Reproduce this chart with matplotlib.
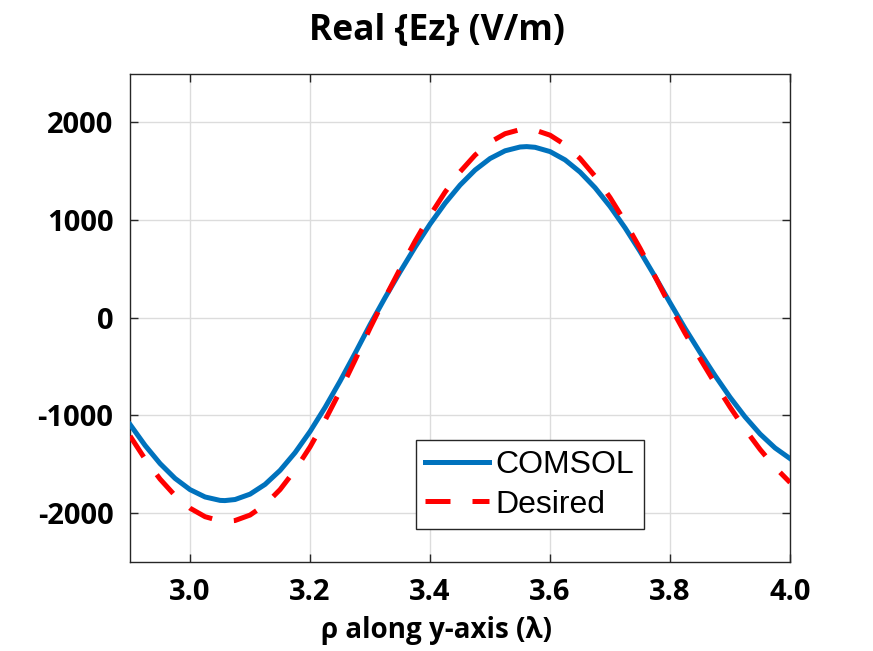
import matplotlib
matplotlib.use("Agg")
import matplotlib.pyplot as plt
import numpy as np

# sample positions along y-axis (wavelengths), extrema added where read
comsol_rho = [2.900, 2.925, 2.950, 2.975, 3.000, 3.025, 3.050, 3.058, 3.075, 3.100,
              3.125, 3.150, 3.175, 3.200, 3.225, 3.250, 3.275, 3.300, 3.325, 3.350,
              3.375, 3.400, 3.425, 3.450, 3.475, 3.500, 3.525, 3.550, 3.561, 3.575,
              3.600, 3.625, 3.650, 3.675, 3.700, 3.725, 3.750, 3.775, 3.800, 3.825,
              3.850, 3.875, 3.900, 3.925, 3.950, 3.975, 4.000]

# Real{Ez} (V/m)
comsol = [-1094, -1308, -1494, -1646, -1761, -1836, -1871, -1873, -1862, -1807,
          -1707, -1564, -1382, -1165, -919, -650, -365, -71, 205, 469,
          722, 959, 1172, 1358, 1512, 1630, 1709, 1748, 1752, 1745,
          1701, 1616, 1491, 1331, 1139, 920, 678, 420, 152, -110,
          -356, -593, -815, -1016, -1191, -1334, -1443]

desired_rho = [2.900, 2.925, 2.950, 2.975, 3.000, 3.025, 3.050, 3.061, 3.075, 3.100,
               3.125, 3.150, 3.175, 3.200, 3.225, 3.250, 3.275, 3.300, 3.325, 3.350,
               3.375, 3.400, 3.425, 3.450, 3.475, 3.500, 3.525, 3.550, 3.560, 3.575,
               3.600, 3.625, 3.650, 3.675, 3.700, 3.725, 3.750, 3.775, 3.800, 3.825,
               3.850, 3.875, 3.900, 3.925, 3.950, 3.975, 4.000]

desired = [-1212, -1448, -1653, -1822, -1951, -2038, -2081, -2085, -2077, -2021,
           -1915, -1760, -1560, -1323, -1050, -752, -434, -106, 204, 500,
           783, 1047, 1286, 1494, 1665, 1797, 1884, 1926, 1930, 1921,
           1869, 1771, 1630, 1448, 1230, 982, 710, 421, 121, -159,
           -420, -674, -916, -1143, -1349, -1532, -1688]

xticks = [3.0, 3.2, 3.4, 3.6, 3.8, 4.0]
yticks = [-2000, -1000, 0, 1000, 2000]

BOLD = "Open Sans"

fig = plt.figure(figsize=(8.73, 6.51), dpi=100)
ax = fig.add_axes([0.149, 0.137, 0.756, 0.750])

ax.plot(comsol_rho, comsol, color="#0072BD", lw=3.6, label="COMSOL",
        solid_joinstyle="round", zorder=3)
ax.plot(desired_rho, desired, color="#FF0000", lw=3.6, dashes=(5, 4.4),
        dash_capstyle="butt", label="Desired", zorder=4)

ax.set_xlim(2.9, 4.0)
ax.set_ylim(-2500, 2500)
ax.set_xticks(xticks)
ax.set_xticklabels(["%.1f" % t for t in xticks])
ax.set_yticks(yticks)
ax.set_yticklabels([str(t) for t in yticks])

ax.grid(True, color="#dcdcdc", lw=1.0)
ax.set_axisbelow(True)
for s in ax.spines.values():
    s.set_color("#262626")
    s.set_linewidth(1.0)
ax.tick_params(direction="in", length=6, width=1.0, color="#262626",
               top=True, right=True, pad=12)
for lab in ax.get_xticklabels() + ax.get_yticklabels():
    lab.set_fontfamily(BOLD)
    lab.set_fontweight("bold")
    lab.set_fontsize(21)
    lab.set_color("black")

fig.text(0.5, 0.952, "Real {Ez} (V/m)", ha="center", va="center",
         fontfamily=BOLD, fontweight="bold", fontsize=25.5)
fig.text(0.5, 0.032, "ρ along y-axis (λ)", ha="center", va="center",
         fontfamily=BOLD, fontweight="bold", fontsize=20)

leg = ax.legend(loc="lower left", bbox_to_anchor=(0.433, 0.067),
                borderaxespad=0, fancybox=False, framealpha=1,
                edgecolor="#262626", handlelength=2.0, handletextpad=0.2,
                borderpad=0.3, labelspacing=0.3,
                prop={"family": "Liberation Sans", "size": 23})
leg.get_frame().set_linewidth(1.0)

fig.savefig("out.png", dpi=100)
